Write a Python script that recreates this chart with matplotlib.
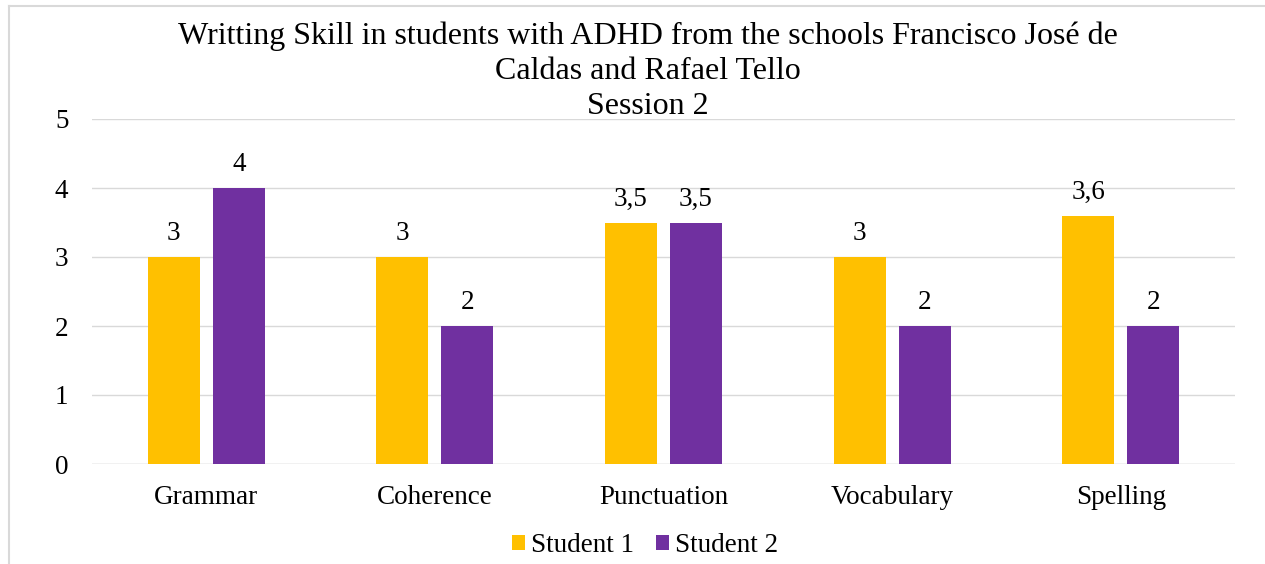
import matplotlib.pyplot as plt
import numpy as np
from matplotlib.lines import Line2D

plt.rcParams['font.family'] = ['Liberation Serif', 'DejaVu Serif']

categories = ['Grammar', 'Coherence', 'Punctuation', 'Vocabulary', 'Spelling']
student1 = [3, 3, 3.5, 3, 3.6]
student2 = [4, 2, 3.5, 2, 2]
labels1 = ['3', '3', '3,5', '3', '3,6']
labels2 = ['4', '2', '3,5', '2', '2']

fig = plt.figure(figsize=(12.65, 5.64), dpi=100)
ax = fig.add_axes([92 / 1265, 1 - 464 / 564, (1235 - 92) / 1265, 345 / 564])

x = np.arange(len(categories))
w = 0.227
off = 0.142
b1 = ax.bar(x - off, student1, w, color='#FFC000', label='Student 1', zorder=3)
b2 = ax.bar(x + off, student2, w, color='#7030A0', label='Student 2', zorder=3)

for bars, labs in ((b1, labels1), (b2, labels2)):
    for bar, lab in zip(bars, labs):
        ax.text(bar.get_x() + bar.get_width() / 2, bar.get_height() + 0.16, lab,
                ha='center', va='bottom', fontsize=19.5)

ax.set_xlim(-0.5, 4.5)
ax.set_ylim(0, 5)
ax.set_yticks(range(6))
ax.set_xticks(x)
ax.set_xticklabels(categories)
ax.tick_params(axis='both', length=0, labelsize=19.5)
ax.tick_params(axis='x', pad=15)
ax.tick_params(axis='y', pad=17)
ax.grid(axis='y', color='#D9D9D9', linewidth=1, zorder=0)
for s in ax.spines.values():
    s.set_visible(False)
ax.axhline(0, color='#D9D9D9', linewidth=1, zorder=1)

fig.text(0.512, 0.961, 'Writting Skill in students with ADHD from the schools Francisco José de\n'
         'Caldas and Rafael Tello\nSession 2', ha='center', va='top', fontsize=23,
         linespacing=1.26)

fig.legend(loc='lower center', bbox_to_anchor=(0.510, -0.032), ncol=2, frameon=False,
           fontsize=19.5, handlelength=0.48, handleheight=0.48, handletextpad=0.22,
           columnspacing=0.82)

# chart frame, only top and left edges are visible in the picture
fig.add_artist(Line2D([9 / 1265, 9 / 1265], [0, 1 - 6 / 564], transform=fig.transFigure,
                      color='#D9D9D9', linewidth=1.5))
fig.add_artist(Line2D([9 / 1265, 1], [1 - 6 / 564, 1 - 6 / 564], transform=fig.transFigure,
                      color='#D9D9D9', linewidth=1.5))

fig.savefig('out.png', dpi=100)
